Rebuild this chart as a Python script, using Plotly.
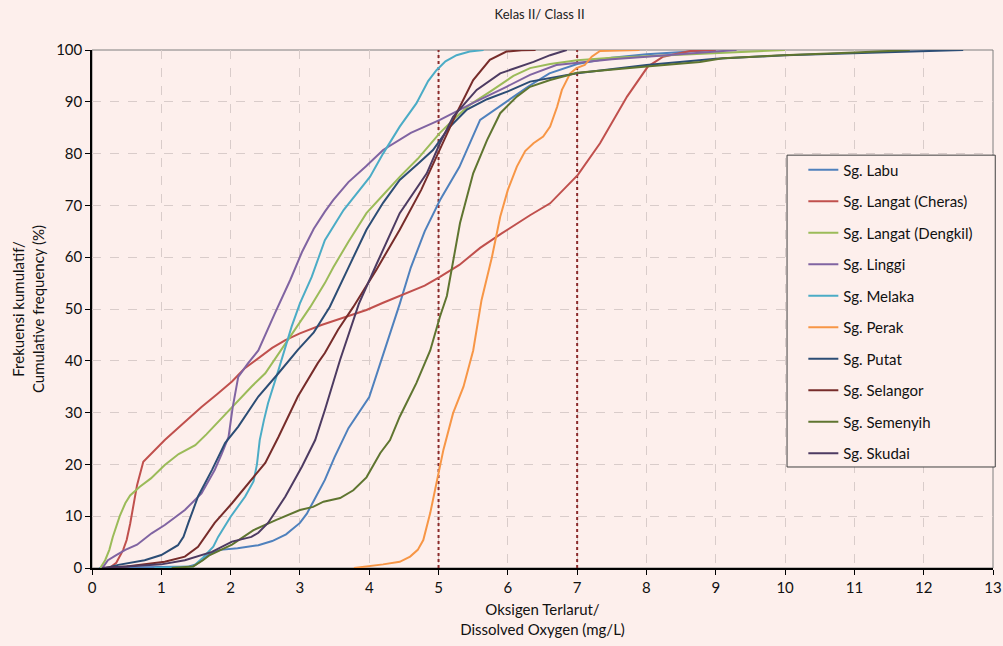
import plotly.graph_objects as go

# ---------------- data ----------------
labu_x = [0.1, 0.8, 1.4, 1.5, 1.6, 1.7, 1.85, 2.1, 2.4, 2.6, 2.8, 3.0, 3.1, 3.2, 3.36, 3.5, 3.7, 4.0, 4.2, 4.44, 4.6, 4.8, 5.02, 5.3, 5.6, 6.0, 6.3, 6.6, 7.0, 7.5, 8.0, 9.0]
labu_y = [0, 0.2, 0.3, 0.7, 1.6, 2.8, 3.5, 3.8, 4.4, 5.2, 6.5, 8.7, 10.5, 13, 17, 21.4, 27, 33, 41, 51, 58, 65, 71, 77.4, 86.5, 90.3, 93, 95.5, 97.3, 98.5, 99.2, 100]

cheras_x = [0.25, 0.35, 0.45, 0.5, 0.55, 0.6, 0.65, 0.74, 0.85, 1.05, 1.29, 1.58, 1.8, 2.02, 2.2, 2.4, 2.6, 2.79, 3.0, 3.31, 3.6, 3.96, 4.2, 4.5, 4.8, 5.02, 5.3, 5.6, 5.9, 6.32, 6.61, 7.01, 7.33, 7.72, 8.02, 8.24, 8.63, 9.0]
cheras_y = [0, 1, 3.5, 5.4, 8.5, 12, 16, 20.5, 22, 24.7, 27.6, 31.1, 33.5, 36, 38.5, 40.5, 42.5, 44, 45.3, 46.9, 48.2, 49.8, 51.2, 52.8, 54.5, 56.2, 58.5, 61.8, 64.5, 68.1, 70.4, 75.9, 82, 91, 96.8, 98.7, 99.8, 100]

dengkil_x = [0.12, 0.19, 0.25, 0.3, 0.4, 0.48, 0.55, 0.69, 0.85, 1.05, 1.25, 1.49, 1.65, 1.82, 2.11, 2.3, 2.5, 2.65, 2.83, 3.0, 3.15, 3.36, 3.48, 3.7, 3.96, 4.2, 4.44, 4.7, 5.02, 5.25, 5.45, 5.75, 6.08, 6.32, 6.61, 7.0, 7.5, 8.0, 9.0, 10.0]
dengkil_y = [0, 1.5, 3.5, 6, 10, 12.5, 14, 15.7, 17.3, 19.9, 22, 23.7, 25.8, 28.2, 32.4, 35, 37.6, 40.5, 44, 47.5, 50.4, 55, 58, 63, 68.5, 72, 75.5, 79, 84, 87, 89.4, 92, 95.0, 96.5, 97.3, 98, 98.5, 98.8, 99.4, 100]

linggi_x = [0.15, 0.23, 0.35, 0.48, 0.65, 0.86, 1.05, 1.34, 1.58, 1.77, 1.87, 1.97, 2.03, 2.11, 2.25, 2.4, 2.64, 2.86, 3.03, 3.2, 3.36, 3.48, 3.7, 3.95, 4.2, 4.6, 5.02, 5.5, 5.98, 6.32, 6.7, 7.0, 7.5, 8.0, 8.5, 9.3]
linggi_y = [0, 1.5, 2.5, 3.5, 4.5, 6.7, 8.3, 11.2, 14.4, 18.9, 22, 25.3, 31, 36.9, 39.5, 42, 49.2, 55.6, 61, 65.5, 68.8, 71, 74.5, 77.5, 80.7, 84, 86.5, 89.8, 92.9, 95.2, 97.1, 97.5, 98.2, 98.7, 99.2, 100]

melaka_x = [0.9, 1.2, 1.46, 1.6, 1.67, 1.75, 1.82, 2.0, 2.21, 2.33, 2.38, 2.42, 2.48, 2.54, 2.69, 2.88, 3.0, 3.17, 3.36, 3.63, 4.01, 4.2, 4.44, 4.68, 4.85, 4.97, 5.1, 5.26, 5.45, 5.65]
melaka_y = [0, 0.1, 0.3, 2, 2.9, 4.1, 6, 9.9, 13.8, 16.7, 20, 24.7, 28.5, 31.8, 38.2, 46.6, 51.1, 56.2, 63.3, 69.1, 75.5, 80, 85.2, 89.7, 94, 96.1, 97.8, 99, 99.7, 100]

perak_x = [3.78, 4.0, 4.2, 4.44, 4.59, 4.7, 4.78, 4.88, 4.97, 5.07, 5.21, 5.36, 5.5, 5.62, 5.77, 5.89, 6.0, 6.13, 6.25, 6.37, 6.51, 6.61, 6.71, 6.78, 6.9, 6.99, 7.11, 7.21, 7.33, 7.9]
perak_y = [0, 0.3, 0.7, 1.2, 2.2, 3.5, 5.4, 10.6, 16.4, 22.8, 29.9, 35, 42, 51.7, 60, 67.8, 73, 77.5, 80.5, 82, 83.3, 85.2, 89, 92.3, 95.5, 96.5, 97.1, 98.7, 99.8, 100]

putat_x = [0.2, 0.38, 0.76, 1.0, 1.24, 1.32, 1.39, 1.53, 1.73, 1.92, 2.11, 2.4, 2.69, 2.97, 3.2, 3.43, 3.7, 3.96, 4.2, 4.44, 4.7, 4.92, 5.15, 5.41, 5.7, 6.0, 6.32, 7.0, 8.0, 9.0, 10.0, 11.04, 12.0, 12.57]
putat_y = [0, 0.6, 1.5, 2.5, 4.4, 6, 8.7, 13.8, 18.9, 24.1, 27.3, 33.1, 37.6, 42.1, 45.5, 50.4, 58, 65.3, 70.5, 74.9, 78, 80.7, 85, 88.5, 90.5, 92, 93.9, 95.5, 97.1, 98.3, 99, 99.4, 99.7, 100]

selangor_x = [0.15, 0.5, 1.05, 1.34, 1.53, 1.77, 2.02, 2.3, 2.5, 2.69, 2.97, 3.26, 3.36, 3.55, 3.77, 4.1, 4.44, 4.75, 5.02, 5.26, 5.5, 5.74, 5.98, 6.2, 6.4]
selangor_y = [0, 0.3, 1.2, 2.2, 4.1, 8.7, 12.5, 17, 20.3, 25.3, 33.1, 39.6, 41.5, 46, 50.4, 57.5, 65.3, 73, 80.7, 87.8, 94.2, 98.1, 99.7, 99.95, 100]

semenyih_x = [1.15, 1.46, 1.6, 1.7, 2.02, 2.33, 2.66, 3.0, 3.19, 3.34, 3.58, 3.77, 3.96, 4.16, 4.3, 4.44, 4.68, 4.88, 5.02, 5.12, 5.31, 5.5, 5.7, 5.89, 6.13, 6.32, 6.61, 7.0, 8.0, 8.77, 9.1, 9.97, 11.0, 11.55, 11.8]
semenyih_y = [0, 0.3, 1.5, 2.5, 4.5, 7.3, 9.3, 11.2, 11.8, 12.8, 13.5, 15, 17.5, 22.2, 24.7, 29.2, 35.7, 42, 48.5, 52.5, 66.6, 76.2, 82.6, 87.8, 91, 92.9, 94.2, 95.6, 96.8, 97.7, 98.4, 99, 99.5, 99.9, 100]

skudai_x = [0.15, 0.5, 1.0, 1.34, 1.73, 2.02, 2.3, 2.4, 2.54, 2.79, 3.03, 3.22, 3.36, 3.58, 3.85, 4.1, 4.44, 4.83, 5.02, 5.21, 5.55, 5.89, 6.37, 6.61, 6.85]
skudai_y = [0, 0.3, 0.7, 1.5, 3.1, 5.1, 6, 6.8, 8.7, 13.8, 19.6, 24.7, 30.5, 40.2, 51, 58.5, 68.5, 76.2, 82, 87.1, 92.3, 95.5, 97.7, 99, 100]

series_names = ["Sg. Labu", "Sg. Langat (Cheras)", "Sg. Langat (Dengkil)", "Sg. Linggi", "Sg. Melaka",
                "Sg. Perak", "Sg. Putat", "Sg. Selangor", "Sg. Semenyih", "Sg. Skudai"]
series_x = [labu_x, cheras_x, dengkil_x, linggi_x, melaka_x, perak_x, putat_x, selangor_x, semenyih_x, skudai_x]
series_y = [labu_y, cheras_y, dengkil_y, linggi_y, melaka_y, perak_y, putat_y, selangor_y, semenyih_y, skudai_y]
colors = ["#4F81BD", "#C0504D", "#9BBB59", "#8064A2", "#4BACC6",
          "#F79646", "#2C4D75", "#772C2A", "#5F7530", "#4D3B62"]

class_limits = [5, 7]
x_ticks = list(range(0, 14))
y_ticks = list(range(0, 101, 10))

BG = "#FDEFEC"

fig = go.Figure()

for lim in class_limits:
    fig.add_trace(go.Scatter(x=[lim, lim], y=[0, 100], mode="lines", showlegend=False,
                             hoverinfo="skip",
                             line=dict(color="#8B2A2A", width=2, dash="dot")))

for i, (n, xs, ys, c) in enumerate(zip(series_names, series_x, series_y, colors)):
    fig.add_trace(go.Scatter(x=xs, y=ys, mode="lines", name=n, legendgroup=f"g{i}",
                             line=dict(color=c, width=2)))

fig.update_layout(
    width=1003, height=646,
    paper_bgcolor=BG, plot_bgcolor=BG,
    margin=dict(l=92, r=10, t=50, b=78, autoexpand=False),
    font=dict(family="Lato, Carlito, sans-serif", size=14, color="#111111"),
    title=dict(text="Kelas II/ Class II", x=0.538, xanchor="center", y=0.977, yanchor="middle",
               font=dict(size=13, color="#222222")),
    showlegend=True,
    legend=dict(x=0.7895, y=0.8, xanchor="left", yanchor="top",
                bgcolor="rgba(0,0,0,0)", borderwidth=0,
                font=dict(size=15, color="#111111"), tracegroupgap=9,
                itemwidth=30),
    shapes=[
        dict(type="rect", xref="paper", yref="paper", x0=0, x1=1, y0=0, y1=1,
             line=dict(color="#7F7F7F", width=1), layer="below"),
        dict(type="rect", xref="paper", yref="paper", x0=0.7714, x1=1.0025, y0=0.195, y1=0.797,
             line=dict(color="#404040", width=1), fillcolor=BG, layer="above"),
    ],
)

fig.update_xaxes(range=[0, 13], tickvals=x_ticks, showgrid=True, gridcolor="#D9CCCA", griddash="dash",
                 gridwidth=1, showline=True, linecolor="#000000", linewidth=1.5, automargin=False,
                 ticks="outside", ticklen=5, tickcolor="#000000", zeroline=False,
                 tickfont=dict(size=15),
                 title=dict(text="Oksigen Terlarut/<br>Dissolved Oxygen (mg/L)", standoff=10,
                            font=dict(size=15)))
fig.update_yaxes(range=[0, 100], tickvals=y_ticks, showgrid=True, gridcolor="#D9CCCA", griddash="dash",
                 gridwidth=1, showline=True, linecolor="#000000", linewidth=1.5, automargin=False,
                 ticks="outside", ticklen=5, tickcolor="#000000", zeroline=False,
                 tickfont=dict(size=15),
                 title=dict(text="Frekuensi kumulatif/<br>Cumulative frequency (%)", standoff=8,
                            font=dict(size=15)))

fig.write_html("out.html", config={"displayModeBar": False},
               post_script="document.body.style.margin='0';document.body.style.background='" + BG + "';")
